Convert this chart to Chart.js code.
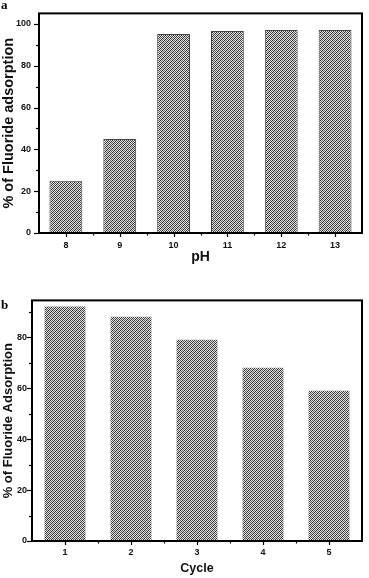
<!DOCTYPE html>
<html>
<head>
<title>Fluoride adsorption</title>
<script src="https://cdn.jsdelivr.net/npm/chart.js"></script>
<style>
  body { margin: 0; background: #fff; }
  .wrap { position: absolute; left: 0; width: 369px; }
</style>
</head>
<body>
<div class="wrap" style="top:0;height:290px"><canvas id="chartA" width="369" height="290"></canvas></div>
<div class="wrap" style="top:290px;height:288px"><canvas id="chartB" width="369" height="288"></canvas></div>
<script>
// panel a: pH
var phLabels = ['8', '9', '10', '11', '12', '13'];
var phValues = [25, 45, 95.2, 96.6, 97.1, 97.1];
var phTicks = [0, 20, 40, 60, 80, 100];
var phMinor = [10, 30, 50, 70, 90];

// panel b: cycles
var cycleLabels = ['1', '2', '3', '4', '5'];
var cycleValues = [92, 88, 79, 68, 59];
var cycleTicks = [0, 20, 40, 60, 80];
var cycleMinor = [10, 30, 50, 70, 90];

// fine "/" hatch, almost a checkerboard at this size
function hatch() {
    var c = document.createElement('canvas');
    c.width = 4; c.height = 4;
    var g = c.getContext('2d');
    for (var x = 0; x < 4; x++) {
        for (var y = 0; y < 4; y++) {
            var k = (x + y) % 4;
            g.fillStyle = k === 0 ? '#2e2e2e' : (k === 2 ? '#5a5a5a' : '#e2e2e2');
            g.fillRect(x, y, 1, 1);
        }
    }
    return g.createPattern(c, 'repeat');
}

// frame, tick marks and the panel letter
function framePlugin(letter, letterY, minor) {
    return {
        id: 'frame',
        afterDraw: function (chart) {
            var ctx = chart.ctx, a = chart.chartArea;
            var xs = chart.scales.x, ys = chart.scales.y;
            ctx.save();
            ctx.strokeStyle = '#000';
            ctx.lineWidth = 1.2;
            ys.ticks.forEach(function (t) {
                var p = Math.round(ys.getPixelForValue(t.value)) + 0.5;
                ctx.beginPath(); ctx.moveTo(a.left - 5, p); ctx.lineTo(a.left, p); ctx.stroke();
            });
            minor.forEach(function (v) {
                if (v > ys.max) return;
                var p = Math.round(ys.getPixelForValue(v)) + 0.5;
                ctx.beginPath(); ctx.moveTo(a.left - 3, p); ctx.lineTo(a.left, p); ctx.stroke();
            });
            var n = chart.data.labels.length;
            for (var i = 0; i < n; i++) {
                var px = Math.round(xs.getPixelForValue(i)) + 0.5;
                ctx.beginPath(); ctx.moveTo(px, a.bottom); ctx.lineTo(px, a.bottom + 4); ctx.stroke();
                if (i < n - 1) {
                    var mx = Math.round(xs.getPixelForValue(i + 0.5)) + 0.5;
                    ctx.beginPath(); ctx.moveTo(mx, a.bottom); ctx.lineTo(mx, a.bottom + 2.5); ctx.stroke();
                }
            }
            ctx.lineWidth = 2;
            ctx.strokeRect(a.left, a.top, a.right - a.left, a.bottom - a.top);
            ctx.fillStyle = '#000';
            ctx.font = 'bold 13px "Liberation Serif"';
            ctx.textBaseline = 'alphabetic';
            ctx.fillText(letter, 1, letterY);
            ctx.restore();
        }
    };
}

function makeChart(id, labels, values, ticks, minor, o) {
    return new Chart(document.getElementById(id).getContext('2d'), {
        type: 'bar',
        data: {
            labels: labels,
            datasets: [{
                data: values,
                backgroundColor: hatch(),
                borderColor: o.border,
                borderWidth: o.borderWidth,
                barPercentage: o.barPct,
                categoryPercentage: 1
            }]
        },
        options: {
            responsive: false,
            animation: false,
            layout: { padding: { left: 0, right: 7, top: o.top, bottom: 0 } },
            plugins: { legend: { display: false }, tooltip: { enabled: false } },
            scales: {
                x: {
                    grid: { display: false, drawTicks: false },
                    border: { display: false },
                    ticks: { color: '#111', padding: o.xPad, maxRotation: 0, font: { family: 'Liberation Sans', weight: 'bold', size: 9 } },
                    title: { display: true, text: o.xTitle, color: '#111', padding: { top: 0, bottom: o.xTitlePad }, font: { family: 'Liberation Sans', weight: 'bold', size: o.xTitleSize } },
                    afterFit: function (s) { s.height = o.xHeight; }
                },
                y: {
                    min: 0,
                    max: o.max,
                    grid: { display: false, drawTicks: false },
                    border: { display: false },
                    afterBuildTicks: function (s) { s.ticks = ticks.map(function (v) { return { value: v }; }); },
                    ticks: { color: '#111', padding: o.yPad, font: { family: 'Liberation Sans', weight: 'bold', size: 9 } },
                    title: { display: true, text: o.yTitle, color: '#111', padding: { top: o.yTitlePad, bottom: 0 }, font: { family: 'Liberation Sans', weight: 'bold', size: o.yTitleSize } },
                    afterFit: function (s) { s.width = o.yWidth; }
                }
            }
        },
        plugins: [framePlugin(o.letter, o.letterY, minor)]
    });
}

makeChart('chartA', phLabels, phValues, phTicks, phMinor, {
    border: '#444', borderWidth: 1, barPct: 0.61, top: 2, max: 105,
    xPad: 7, xTitle: 'pH', xTitleSize: 14, xTitlePad: 24, xHeight: 57,
    yPad: 8, yTitle: '% of Fluoride adsorption', yTitlePad: 0, yTitleSize: 14.5, yWidth: 39,
    letter: 'a', letterY: 9
});

makeChart('chartB', cycleLabels, cycleValues, cycleTicks, cycleMinor, {
    border: '#777', borderWidth: 0, barPct: 0.62, top: 9, max: 94.4,
    xPad: 6, xTitle: 'Cycle', xTitleSize: 12.5, xTitlePad: 2, xHeight: 37,
    yPad: 5, yTitle: '% of Fluoride Adsorption', yTitlePad: 1, yTitleSize: 13, yWidth: 32,
    letter: 'b', letterY: 19
});
</script>
</body>
</html>
